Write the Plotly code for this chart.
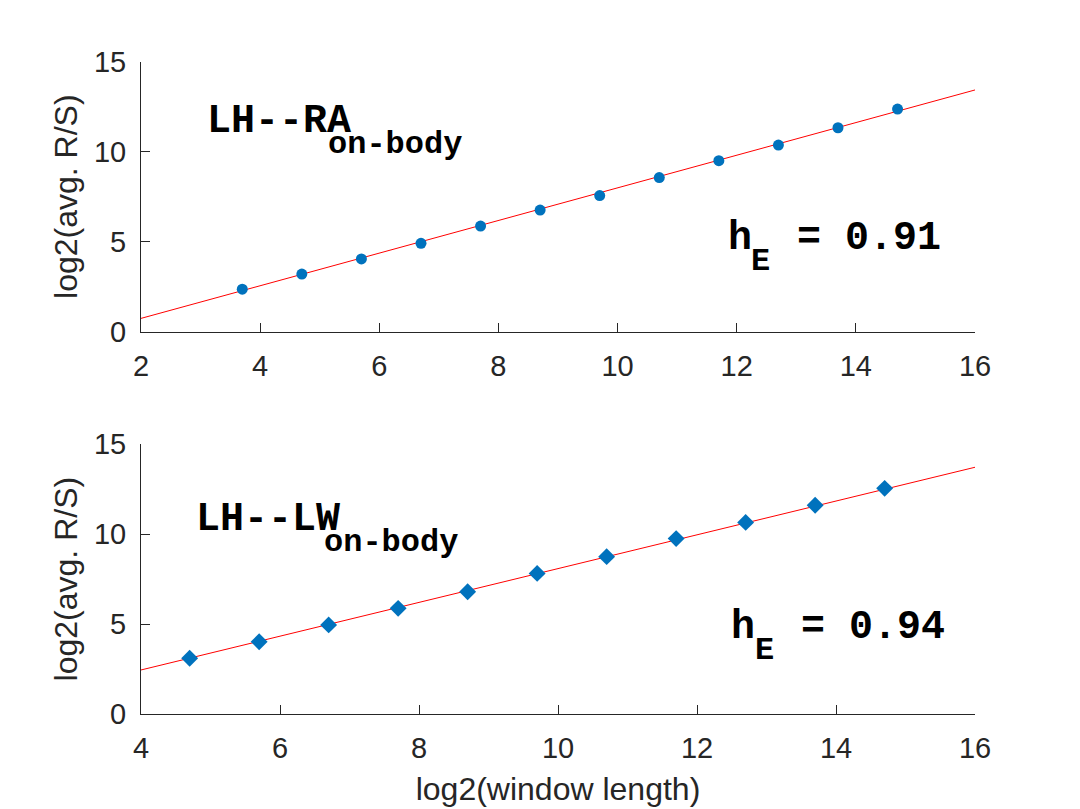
import plotly.graph_objects as go

# ---- data ----
x_top = [3.7, 4.7, 5.7, 6.7, 7.7, 8.7, 9.7, 10.7, 11.7, 12.7, 13.7, 14.7]
y_top = [2.36, 3.20, 4.04, 4.91, 5.87, 6.76, 7.56, 8.56, 9.50, 10.37, 11.33, 12.37]
fit_top_x = [2, 16]
fit_top_y = [0.74, 13.43]

x_bot = [4.7, 5.7, 6.7, 7.7, 8.7, 9.7, 10.7, 11.7, 12.7, 13.7, 14.7]
y_bot = [3.11, 4.03, 4.96, 5.88, 6.80, 7.82, 8.75, 9.75, 10.65, 11.60, 12.54]
fit_bot_x = [4, 16]
fit_bot_y = [2.46, 13.71]

x_ticks_top = [2, 4, 6, 8, 10, 12, 14, 16]
x_ticks_bot = [4, 6, 8, 10, 12, 14, 16]
y_ticks = [0, 5, 10, 15]

label_top = "LH--RA"
label_bot = "LH--LW"
sub_label = "on-body"
he_top = "= 0.91"
he_bot = "= 0.94"

W, H = 1080, 809
BLUE = "#0072BD"
AX = "#262626"

fig = go.Figure()
fig.add_trace(go.Scatter(x=fit_top_x, y=fit_top_y, mode="lines",
                         line=dict(color="red", width=1), xaxis="x", yaxis="y"))
fig.add_trace(go.Scatter(x=x_top, y=y_top, mode="markers",
                         marker=dict(color=BLUE, size=11, symbol="circle"),
                         xaxis="x", yaxis="y"))
fig.add_trace(go.Scatter(x=fit_bot_x, y=fit_bot_y, mode="lines",
                         line=dict(color="red", width=1), xaxis="x2", yaxis="y2"))
fig.add_trace(go.Scatter(x=x_bot, y=y_bot, mode="markers",
                         marker=dict(color=BLUE, size=13, symbol="diamond"),
                         xaxis="x2", yaxis="y2"))

def px(v):
    return v / W

def py(v):
    return 1 - v / H

tickfont = dict(family="Liberation Sans, Arial, sans-serif", size=29, color=AX)
titlefont = dict(family="Liberation Sans, Arial, sans-serif", size=32, color=AX)
common_ax = dict(showline=True, linecolor=AX, linewidth=1, ticks="inside", ticklen=9,
                 tickcolor=AX, tickwidth=1, showgrid=False, zeroline=False,
                 tickfont=tickfont, mirror=False, automargin=False)

xd = [px(141), px(975)]
fig.update_layout(
    width=W, height=H,
    margin=dict(l=0, r=0, t=0, b=0),
    paper_bgcolor="white", plot_bgcolor="white",
    showlegend=False,
    xaxis=dict(domain=xd, range=[2, 16], tickvals=x_ticks_top, anchor="y",
               ticklabelstandoff=8, **common_ax),
    yaxis=dict(domain=[py(331.7), py(61.7)], range=[0, 15], tickvals=y_ticks, anchor="x",
               ticklabelstandoff=8,
               title=dict(text="log2(avg. R/S)", font=titlefont, standoff=6), **common_ax),
    xaxis2=dict(domain=xd, range=[4, 16], tickvals=x_ticks_bot, anchor="y2",
                ticklabelstandoff=8,
                title=dict(text="log2(window length)", font=titlefont, standoff=14), **common_ax),
    yaxis2=dict(domain=[py(714.3), py(444)], range=[0, 15], tickvals=y_ticks, anchor="x2",
                ticklabelstandoff=8,
                title=dict(text="log2(avg. R/S)", font=titlefont, standoff=6), **common_ax),
)

mono_big = dict(family="Liberation Mono, Courier New, monospace", size=40, color="black", weight="bold")
mono_small = dict(family="Liberation Mono, Courier New, monospace", size=32, color="black", weight="bold")

def ann(text, x, y, font):
    fig.add_annotation(text=text, x=px(x), y=py(y), xref="paper", yref="paper",
                       xanchor="left", yanchor="middle", showarrow=False, font=font)

# top panel texts
ann(label_top, 205, 122, mono_big)
ann(sub_label, 326, 145, mono_small)
ann("h", 726, 239, mono_big)
ann("E", 749, 262, mono_small)
ann(he_top, 795, 239, mono_big)
# bottom panel texts
ann(label_bot, 194, 519, mono_big)
ann(sub_label, 322, 542, mono_small)
ann("h", 729, 627, mono_big)
ann("E", 753, 650, mono_small)
ann(he_bot, 799, 627, mono_big)

fig.write_html("out.html")
